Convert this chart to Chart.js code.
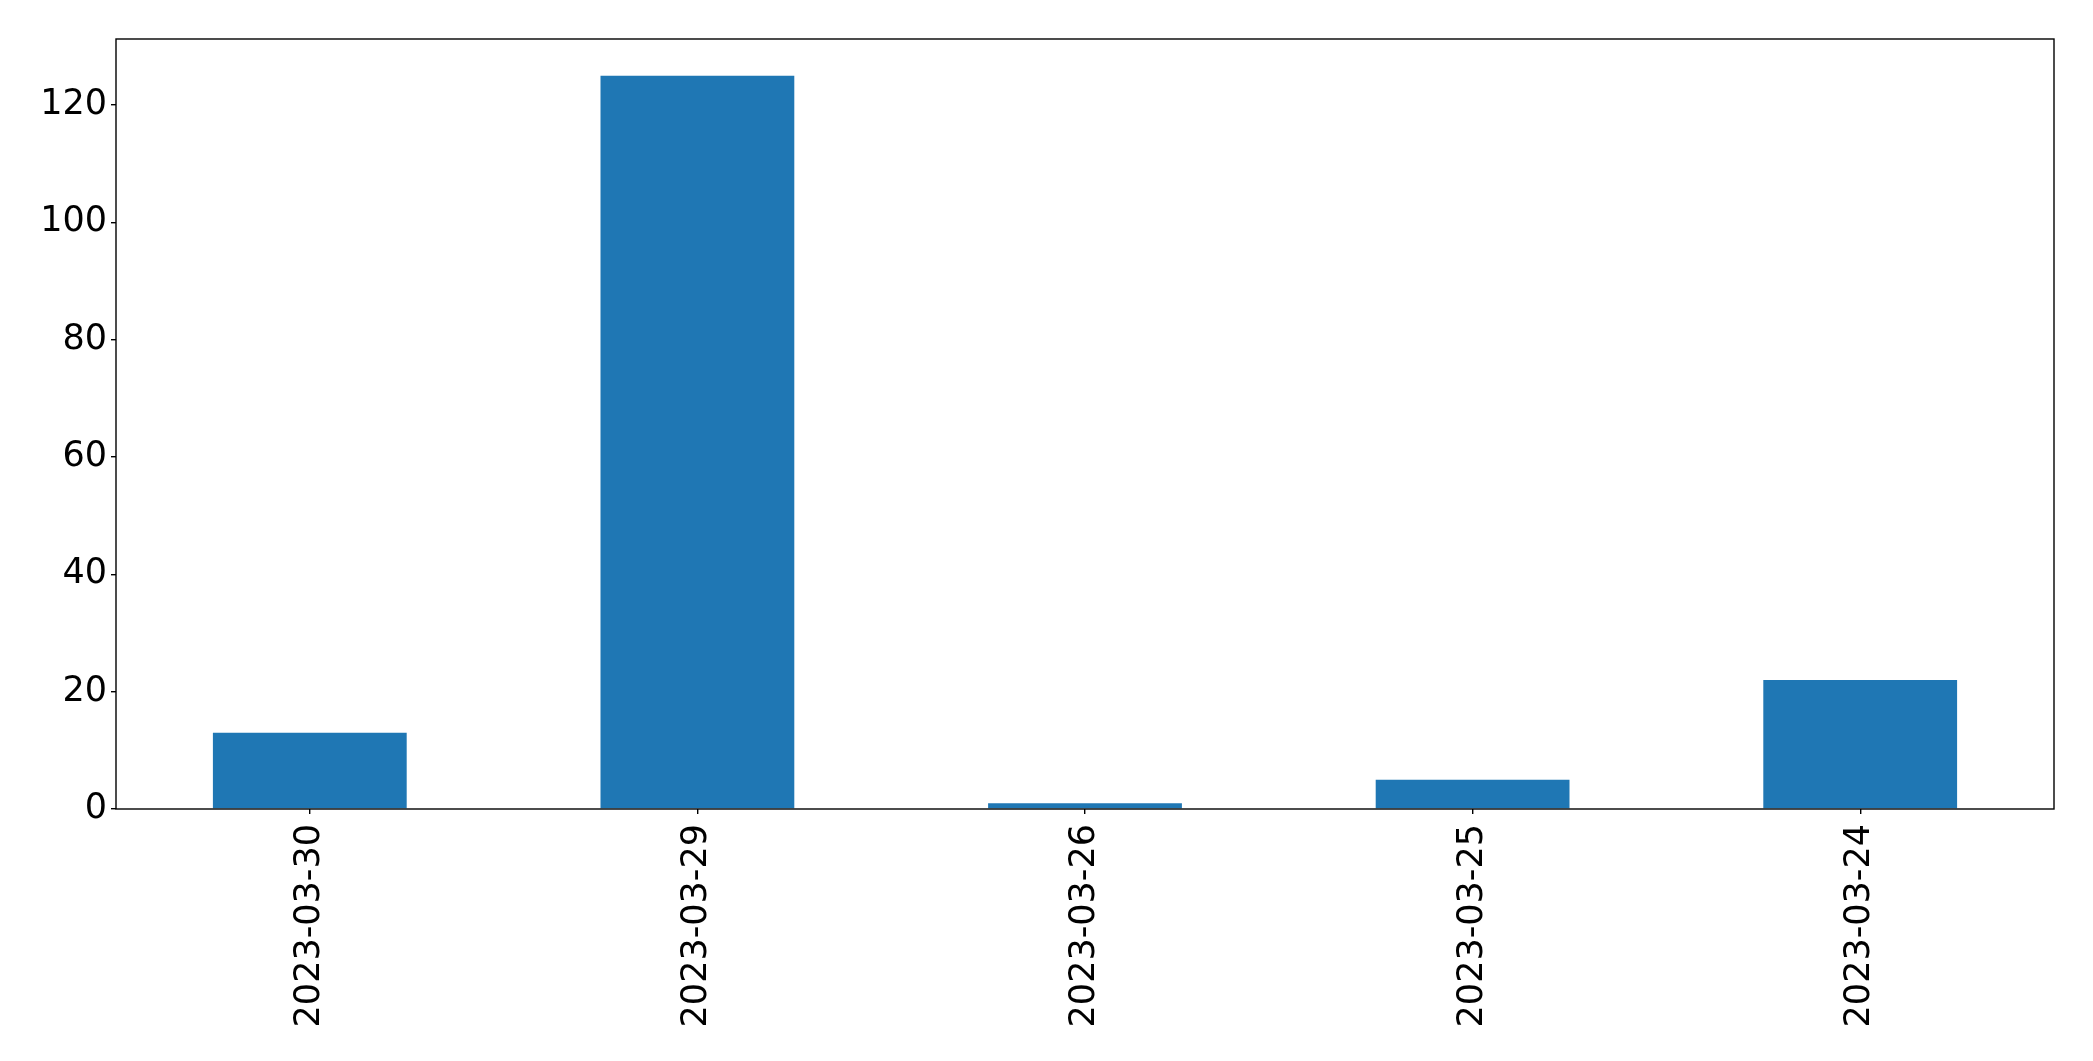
<!DOCTYPE html>
<html>
<head>
<meta charset="utf-8">
<script src="https://cdn.jsdelivr.net/npm/chart.js@4/dist/chart.umd.min.js"></script>
<style>
html,body{margin:0;padding:0;background:#fff;}
#wrap{width:2093px;height:1061px;position:relative;}
</style>
</head>
<body>
<div id="wrap"><canvas id="c" width="2093" height="1061"></canvas></div>
<script>
const categories = ["2023-03-30", "2023-03-29", "2023-03-26", "2023-03-25", "2023-03-24"];
const values = [13, 125, 1, 5, 22];
const yTicks = [0, 20, 40, 60, 80, 100, 120];
const yMax = 131.25;

const frame = {
  id: 'frame',
  afterDatasetsDraw(chart) {
    const a = chart.chartArea, ctx = chart.ctx;
    ctx.save();
    ctx.strokeStyle = '#000';
    ctx.lineWidth = 1.4;
    ctx.strokeRect(a.left, a.top, a.right - a.left, a.bottom - a.top);
    ctx.restore();
  }
};

new Chart(document.getElementById('c'), {
  type: 'bar',
  data: {
    labels: categories,
    datasets: [{
      data: values,
      backgroundColor: '#1f77b4',
      borderWidth: 0,
      barPercentage: 0.5,
      categoryPercentage: 1.0
    }]
  },
  options: {
    responsive: false,
    animation: false,
    devicePixelRatio: 1,
    layout: { padding: { left: 0, top: 39, right: 39, bottom: 0 } },
    plugins: { legend: { display: false }, tooltip: { enabled: false } },
    scales: {
      x: {
        offset: true,
        grid: { display: true, drawOnChartArea: false, drawTicks: true, tickLength: 5, color: '#000', offset: false, lineWidth: 1.4 },
        border: { display: false },
        ticks: {
          color: '#000', font: { family: 'DejaVu Sans', size: 35 },
          maxRotation: 90, minRotation: 90, padding: 10, autoSkip: false
        },
        afterFit(scale) { scale.height = 252; }
      },
      y: {
        min: 0, max: yMax,
        grid: { display: true, drawOnChartArea: false, drawTicks: true, tickLength: 5, color: '#000', lineWidth: 1.4 },
        border: { display: false },
        afterBuildTicks(scale) { scale.ticks = yTicks.map(v => ({ value: v })); },
        ticks: { color: '#000', font: { family: 'DejaVu Sans', size: 35 }, padding: 4 },
        afterFit(scale) { scale.width = 116; }
      }
    }
  },
  plugins: [frame]
});
</script>
</body>
</html>
